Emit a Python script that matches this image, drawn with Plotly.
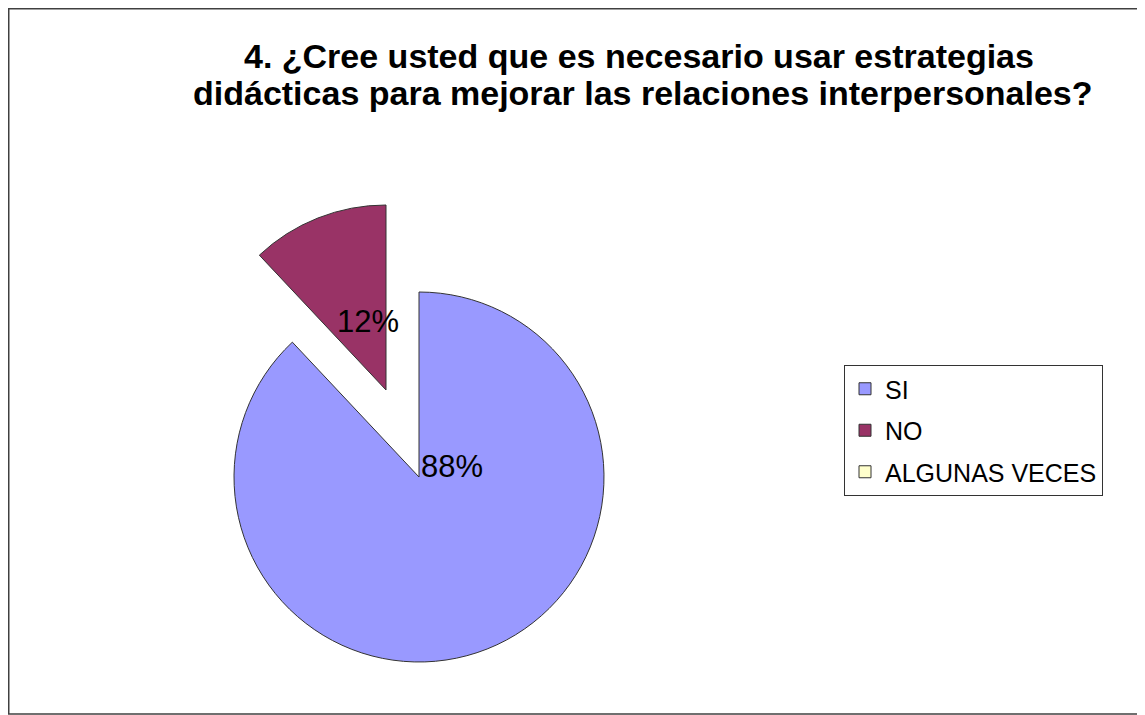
import plotly.graph_objects as go

# ---- data ----
labels = ["SI", "NO", "ALGUNAS VECES"]
values = [88, 12, 0]
colors = ["#9999FF", "#993366", "#FFFFCC"]
title_lines = ["4. ¿Cree usted que es necesario usar estrategias",
               "didácticas para mejorar las relaciones interpersonales?"]

W, H = 1145, 715
OFF = 8  # page body margin
TRANSP = "rgba(0,0,0,0)"
EDGE = "#333333"
FONT = "Liberation Sans, Arial"


def fx(x):
    return (x - OFF) / W


def fy(y):
    return 1 - (y - OFF) / H


def px_domain(cx, cy, r):
    return dict(x=[fx(cx - r), fx(cx + r)], y=[fy(cy + r), fy(cy - r)])


R = 185
main_c = (419, 477)      # centre of the main pie
expl_c = (386, 390)      # centre of the exploded NO slice

fig = go.Figure()

# main pie: SI visible, others transparent
fig.add_trace(go.Pie(
    labels=labels, values=values, sort=False, direction="clockwise", rotation=0,
    marker=dict(colors=[colors[0], TRANSP, TRANSP],
                line=dict(color=[EDGE, TRANSP, TRANSP], width=1)),
    textinfo="none", hoverinfo="label+percent", showlegend=False,
    domain=px_domain(*main_c, R),
))
# exploded pie: NO visible
fig.add_trace(go.Pie(
    labels=labels, values=values, sort=False, direction="clockwise", rotation=0,
    marker=dict(colors=[TRANSP, colors[1], colors[2]],
                line=dict(color=[TRANSP, EDGE, TRANSP], width=1)),
    textinfo="none", hoverinfo="label+percent", showlegend=False,
    domain=px_domain(*expl_c, R),
))
# legend entries (zero-size pies hidden beneath the legend box)
for i, (lab, col) in enumerate(zip(labels, colors)):
    fig.add_trace(go.Pie(
        labels=[lab], sort=False,
        marker=dict(colors=[col], line=dict(color=EDGE, width=1)),
        textinfo="none", hoverinfo="skip", showlegend=True,
        legendgroup=f"g{i}",
        domain=dict(x=[fx(1000), fx(1000.1)], y=[fy(430.1), fy(430)]),
    ))

total = sum(values)
pct = [f"{round(v / total * 100)}%" for v in values]

TS = 34
annotations = [
    dict(text=title_lines[0], x=fx(639), y=fy(55.5), xref="paper", yref="paper",
         xanchor="center", yanchor="middle", showarrow=False,
         font=dict(family=FONT, size=TS, color="black", weight="bold")),
    dict(text=title_lines[1], x=fx(643), y=fy(93.5), xref="paper", yref="paper",
         xanchor="center", yanchor="middle", showarrow=False,
         font=dict(family=FONT, size=TS, color="black", weight="bold")),
    dict(text=pct[0], x=fx(main_c[0]), y=fy(466), xref="paper", yref="paper",
         xanchor="left", yanchor="middle", showarrow=False,
         font=dict(family=FONT, size=31, color="black")),
    dict(text=pct[1], x=fx(368), y=fy(321), xref="paper", yref="paper",
         xanchor="center", yanchor="middle", showarrow=False,
         font=dict(family=FONT, size=31, color="black")),
]

fig.update_layout(
    width=W, height=H,
    margin=dict(l=0, r=0, t=0, b=0),
    paper_bgcolor="white", plot_bgcolor="white",
    annotations=annotations,
    shapes=[dict(type="rect", xref="paper", yref="paper",
                 x0=0.75 / W, x1=fx(1142), y0=fy(714), y1=1 - 0.75 / H,
                 line=dict(color="#404040", width=1.5))],
    legend=dict(x=fx(844), y=fy(365), xanchor="left", yanchor="top",
                bgcolor="white", bordercolor="#333333", borderwidth=1,
                traceorder="grouped", tracegroupgap=6,
                font=dict(family=FONT, size=25, color="black")),
)

fig.write_html("out.html")
